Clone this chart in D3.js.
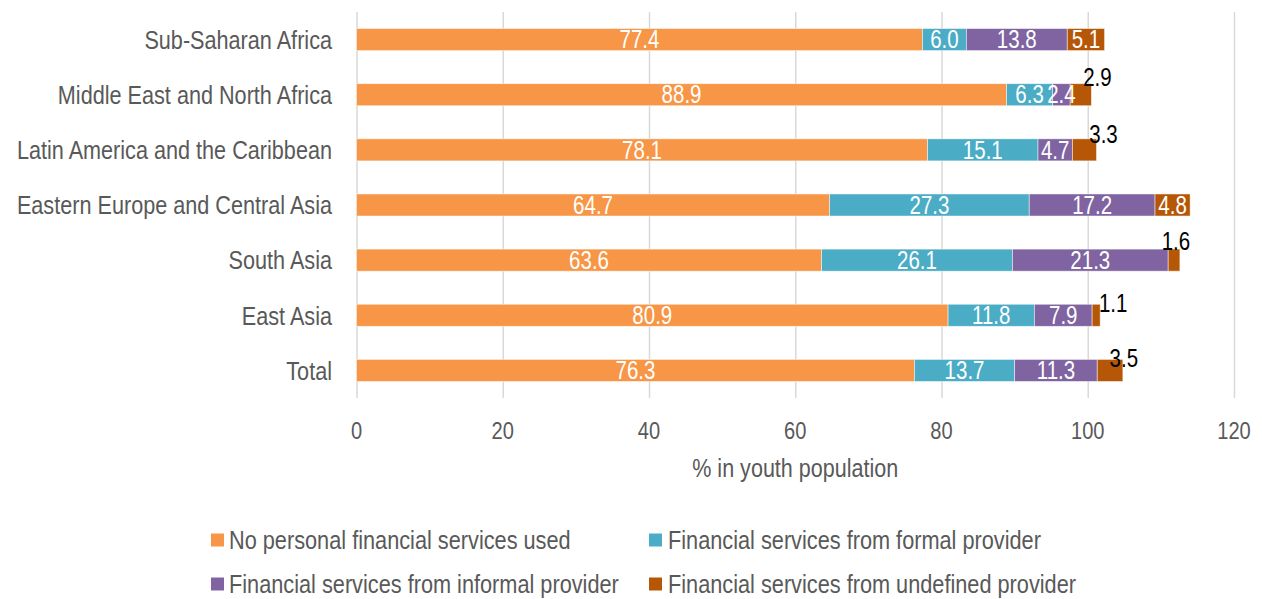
<!DOCTYPE html>
<html>
<head>
<meta charset="utf-8">
<script src="https://cdn.jsdelivr.net/npm/d3@7"></script>
<style>
  html, body { margin: 0; padding: 0; background: #ffffff; }
  svg { display: block; }
</style>
</head>
<body>
<div id="chart"></div>
<script>
// Regions, top to bottom
const categories = [
  "Sub-Saharan Africa",
  "Middle East and North Africa",
  "Latin America and the Caribbean",
  "Eastern Europe and Central Asia",
  "South Asia",
  "East Asia",
  "Total"
];

// Share of youth population (%) by type of financial service use
const noServices = [77.4, 88.9, 78.1, 64.7, 63.6, 80.9, 76.3];
const formalProvider = [6.0, 6.3, 15.1, 27.3, 26.1, 11.8, 13.7];
const informalProvider = [13.8, 2.4, 4.7, 17.2, 21.3, 7.9, 11.3];
const undefinedProvider = [5.1, 2.9, 3.3, 4.8, 1.6, 1.1, 3.5];

const seriesNames = [
  "No personal financial services used",
  "Financial services from formal provider",
  "Financial services from informal provider",
  "Financial services from undefined provider"
];

const xTicks = [0, 20, 40, 60, 80, 100, 120];
const xTitle = "% in youth population";

// ---- styling and layout ----
const colors = ["#F79646", "#4BACC6", "#8064A2", "#B65708"];
const W = 1262, H = 599;
const plot = { left: 356.5, right: 1234, top: 12, bottom: 398 };
const textGray = "#595959";
const NARROW = 0.82; // horizontal squeeze giving a narrow sans face
const fontFamily = "'Liberation Sans', Arial, sans-serif";

// small nudges (px) for the callout labels of thin end segments
const calloutNudge = {
  "Middle East and North Africa": [6, -17],
  "Latin America and the Caribbean": [7, -16],
  "South Asia": [-4, -19],
  "East Asia": [13, -12],
  "Total": [1, -12]
};

const svg = d3.select("#chart").append("svg")
  .attr("width", W).attr("height", H);

const x = d3.scaleLinear().domain([0, 120]).range([plot.left, plot.right]);
const y = d3.scaleBand().domain(categories)
  .range([plot.top, plot.bottom])
  .paddingInner(0.6).paddingOuter(0.3);

function narrowText(parent, tx, ty, str, size, fill, anchor) {
  const g = parent.append("g")
    .attr("transform", `translate(${tx},${ty}) scale(${NARROW},1)`);
  g.append("text")
    .attr("x", 0).attr("y", 0)
    .attr("dy", "0.35em")
    .attr("text-anchor", anchor || "middle")
    .attr("font-family", fontFamily)
    .attr("font-size", size)
    .attr("fill", fill)
    .text(str);
  return g;
}

// vertical gridlines
const xAxis = d3.axisBottom(x).tickValues(xTicks)
  .tickSize(-(plot.bottom - plot.top)).tickFormat("");
const axisG = svg.append("g")
  .attr("transform", `translate(0,${plot.bottom})`)
  .call(xAxis);
axisG.select(".domain").remove();
axisG.selectAll(".tick line")
  .attr("stroke", "#d9d9d9").attr("stroke-width", 1.5);

// tick labels
xTicks.forEach(t => narrowText(svg, x(t), 430, String(t), 24.5, textGray, "middle"));

// axis title
narrowText(svg, (plot.left + plot.right) / 2, 468, xTitle, 26.3, textGray, "middle");

// category labels
categories.forEach(c =>
  narrowText(svg, 332, y(c) + y.bandwidth() / 2, c, 26.4, textGray, "end"));

// stacked bars
const rows = categories.map((c, i) => ({
  cat: c,
  v: [noServices[i], formalProvider[i], informalProvider[i], undefinedProvider[i]]
}));
const stack = d3.stack().keys([0, 1, 2, 3]).value((d, k) => d.v[k]);
const layers = stack(rows);

layers.forEach((layer, k) => {
  svg.append("g").selectAll("rect")
    .data(layer)
    .join("rect")
    .attr("x", d => x(d[0]))
    .attr("y", d => y(d.data.cat))
    .attr("width", d => x(d[1]) - x(d[0]))
    .attr("height", y.bandwidth())
    .attr("fill", colors[k])
    .attr("stroke", "#ffffff")
    .attr("stroke-opacity", 0.6)
    .attr("stroke-width", 0.8);
});

// value labels
const labelsG = svg.append("g");
layers.forEach((layer, k) => {
  layer.forEach(d => {
    const val = d[1] - d[0];
    const cy = y(d.data.cat) + y.bandwidth() / 2;
    const txt = val.toFixed(1);
    if (k === 3 && val < 4) {
      const n = calloutNudge[d.data.cat] || [4, -14];
      narrowText(labelsG, x(d[1]) + n[0], cy + n[1], txt, 25, "#000000", "middle");
    } else {
      narrowText(labelsG, (x(d[0]) + x(d[1])) / 2, cy, txt, 25, "#ffffff", "middle");
    }
  });
});

// legend
const legendItems = [
  { sx: 211, tx: 229, cy: 540 },
  { sx: 649, tx: 668, cy: 540 },
  { sx: 211, tx: 229, cy: 584 },
  { sx: 649, tx: 668, cy: 584 }
];
const legendG = svg.append("g");
seriesNames.forEach((name, k) => {
  const p = legendItems[k];
  legendG.append("rect")
    .attr("x", p.sx).attr("y", p.cy - 6.5)
    .attr("width", 13).attr("height", 13)
    .attr("fill", colors[k]);
  narrowText(legendG, p.tx, p.cy, name, 26.5, textGray, "start");
});
</script>
</body>
</html>
